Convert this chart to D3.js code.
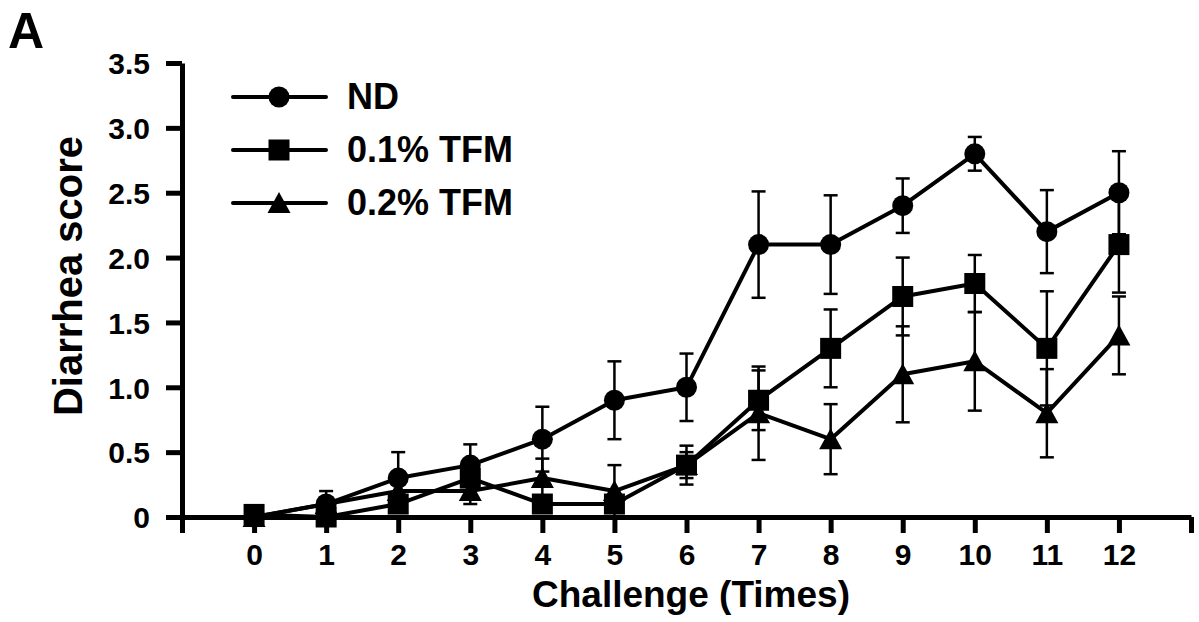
<!DOCTYPE html>
<html>
<head>
<meta charset="utf-8">
<script src="https://d3js.org/d3.v7.min.js"></script>
<style>
  body { margin: 0; background: #fff; }
  svg { display: block; }
  text { font-family: "Liberation Sans", Arial, sans-serif; font-weight: bold; fill: #000; }
</style>
</head>
<body>
<svg id="chart"></svg>
<script>
// challenge number on the x axis
var challenges = [0, 1, 2, 3, 4, 5, 6, 7, 8, 9, 10, 11, 12]
var yTicks = [0, 0.5, 1.0, 1.5, 2.0, 2.5, 3.0, 3.5]

// mean diarrhea score and error for each group
var nd       = [0, 0.1, 0.3, 0.4, 0.6, 0.9, 1.0, 2.1, 2.1, 2.4, 2.8, 2.2, 2.5]
var ndErr    = [0, 0.1, 0.2, 0.16, 0.25, 0.3, 0.26, 0.41, 0.38, 0.21, 0.13, 0.32, 0.32]
var tfm01    = [0.02, 0, 0.1, 0.3, 0.1, 0.1, 0.4, 0.9, 1.3, 1.7, 1.8, 1.3, 2.1]
var tfm01Err = [0, 0, 0, 0, 0, 0, 0.15, 0.23, 0.3, 0.3, 0.22, 0.44, 0.37]
var tfm02    = [0, 0.1, 0.2, 0.2, 0.3, 0.2, 0.4, 0.8, 0.6, 1.1, 1.2, 0.8, 1.4]
var tfm02Err = [0, 0, 0, 0.1, 0.15, 0.2, 0.1, 0.36, 0.27, 0.37, 0.38, 0.34, 0.3]

var groups = [
  {name: "ND", shape: "circle", values: nd, err: ndErr},
  {name: "0.1% TFM", shape: "square", values: tfm01, err: tfm01Err},
  {name: "0.2% TFM", shape: "triangle", values: tfm02, err: tfm02Err}
]

var width = 1199, height = 622

var svg = d3.select("#chart")
    .attr("width", width)
    .attr("height", height)

var x = d3.scaleLinear().domain([-1, 13]).range([182, 1191])
var y = d3.scaleLinear().domain([0, 3.5]).range([517, 63])

// marker drawing
function marker(sel, shape) {
  if (shape === "circle") {
    sel.append("circle").attr("r", 10.5)
  } else if (shape === "square") {
    sel.append("rect").attr("x", -10.5).attr("y", -10.5).attr("width", 21).attr("height", 21)
  } else {
    sel.append("path").attr("d", "M0,-11L11.5,10L-11.5,10Z")
  }
}

// axes
var yAxis = d3.axisLeft(y)
    .tickValues(yTicks)
    .tickSize(16)
    .tickSizeOuter(0)
    .tickPadding(16)
    .tickFormat(d => d === 0 ? "0" : d.toFixed(1))

var xAxis = d3.axisBottom(x)
    .tickValues([-1].concat(challenges, [13]))
    .tickSize(16)
    .tickSizeOuter(0)
    .tickPadding(11)
    .tickFormat(d => (d < 0 || d > 12) ? "" : d)

var gy = svg.append("g").attr("transform", `translate(${x(-1)},0)`).call(yAxis)
var gx = svg.append("g").attr("transform", `translate(0,${y(0)})`).call(xAxis)

svg.selectAll(".domain").attr("stroke", "#000").attr("stroke-width", 5)
svg.selectAll(".tick line").attr("stroke", "#000").attr("stroke-width", 5)
svg.selectAll(".tick text")
    .attr("fill", "#000")
    .style("font-size", "30px")
    .style("font-family", "'Liberation Sans', Arial, sans-serif")
    .style("font-weight", "bold")
gy.selectAll(".tick text").attr("dy", "0.36em")

// error bars
var cap = 7
groups.forEach(function(g) {
  var eb = svg.append("g").attr("stroke", "#000").attr("stroke-width", 2.5)
  challenges.forEach(function(c, i) {
    var e = g.err[i]
    if (!e) return
    var cx = x(c), top = y(g.values[i] + e), bot = y(g.values[i] - e)
    eb.append("line").attr("x1", cx).attr("x2", cx).attr("y1", top).attr("y2", bot)
    eb.append("line").attr("x1", cx - cap).attr("x2", cx + cap).attr("y1", top).attr("y2", top)
    eb.append("line").attr("x1", cx - cap).attr("x2", cx + cap).attr("y1", bot).attr("y2", bot)
  })
})

// lines
var line = d3.line()
    .x((d, i) => x(challenges[i]))
    .y(d => y(d))

groups.forEach(function(g) {
  svg.append("path")
      .datum(g.values)
      .attr("d", line)
      .attr("fill", "none")
      .attr("stroke", "#000")
      .attr("stroke-width", 4)
      .attr("stroke-linejoin", "round")
})

// markers
groups.forEach(function(g) {
  svg.append("g").selectAll("g")
    .data(g.values)
    .join("g")
      .attr("transform", (d, i) => `translate(${x(challenges[i])},${y(d)})`)
      .attr("fill", "#000")
      .each(function() { marker(d3.select(this), g.shape) })
})

// legend
var legend = svg.append("g")
groups.forEach(function(g, i) {
  var ly = 97 + i * 53
  legend.append("line")
      .attr("x1", 233).attr("x2", 326).attr("y1", ly).attr("y2", ly)
      .attr("stroke", "#000").attr("stroke-width", 4).attr("stroke-linecap", "round")
  var m = legend.append("g").attr("transform", `translate(279,${ly})`).attr("fill", "#000")
  marker(m, g.shape)
  legend.append("text")
      .attr("x", 347).attr("y", ly + 12)
      .style("font-size", "36px")
      .text(g.name)
})

// titles
svg.append("text")
    .attr("x", 691).attr("y", 607)
    .attr("text-anchor", "middle")
    .style("font-size", "37px")
    .text("Challenge (Times)")

svg.append("text")
    .attr("transform", "translate(82,276) rotate(-90)")
    .attr("text-anchor", "middle")
    .style("font-size", "40px")
    .text("Diarrhea score")

svg.append("text")
    .attr("x", 8).attr("y", 48)
    .style("font-size", "50px")
    .text("A")
</script>
</body>
</html>
